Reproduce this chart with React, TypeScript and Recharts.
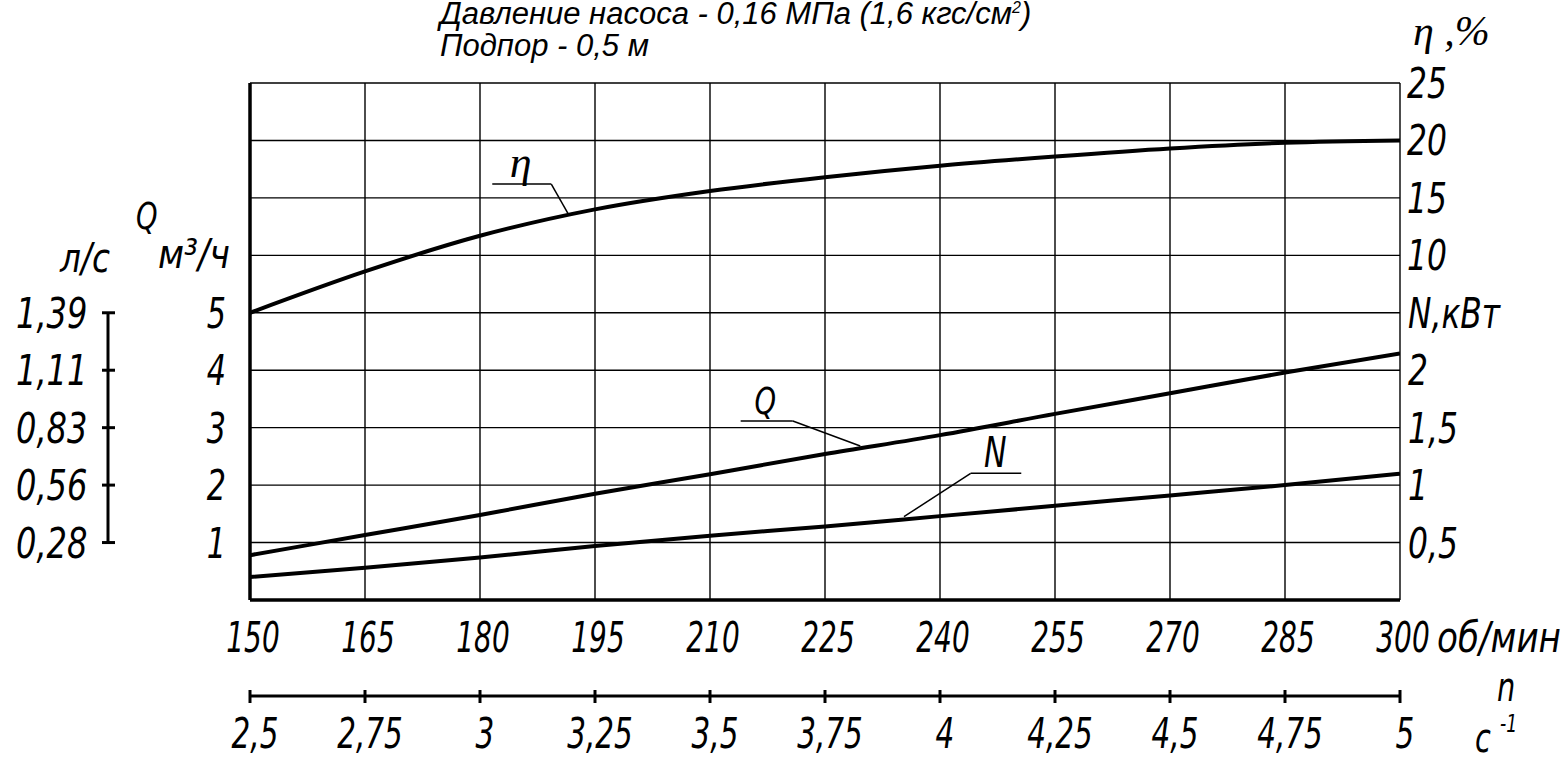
import React from 'react';
import { LineChart, Line, XAxis, YAxis, CartesianGrid, ReferenceLine, ReferenceDot } from 'recharts';

// ---------- data ----------
const rpm = [150, 165, 180, 195, 210, 225, 240, 255, 270, 285, 300]; // об/мин
const flowQ = [0.78, 1.13, 1.48, 1.85, 2.19, 2.54, 2.87, 3.24, 3.6, 3.96, 4.29]; // м3/ч
const powerN = [0.2, 0.28, 0.37, 0.47, 0.56, 0.64, 0.73, 0.82, 0.91, 1.0, 1.1]; // кВт
const efficiency = [5.0, 8.6, 11.7, 14.0, 15.6, 16.8, 17.8, 18.6, 19.3, 19.8, 20.0]; // %

const rpmTicks = [150, 165, 180, 195, 210, 225, 240, 255, 270, 285, 300];
const rpmTickLabels = ['150', '165', '180', '195', '210', '225', '240', '255', '270', '285', '300'];
const secTickLabels = ['2,5', '2,75', '3', '3,25', '3,5', '3,75', '4', '4,25', '4,5', '4,75', '5'];
const qGridTicks = [0, 1, 2, 3, 4, 5, 6, 7, 8, 9];
const qTickValues = [1, 2, 3, 4, 5];
const qTickLabels = ['1', '2', '3', '4', '5'];
const lsTicks = [0.2778, 0.5556, 0.8333, 1.1111, 1.3889];
const lsTickLabels = ['0,28', '0,56', '0,83', '1,11', '1,39'];
const etaTicks = [10, 15, 20, 25];
const etaTickLabels = ['10', '15', '20', '25'];
const nTicks = [0.5, 1, 1.5, 2, 2.5];
const nTickLabels = ['0,5', '1', '1,5', '2', 'N,кВт'];

const data = rpm.map((r, i) => ({ rpm: r, q: flowQ[i], n: powerN[i], eta: efficiency[i] }));

// annotation leaders (rpm, Q-scale units)
const etaUnder = [{ x: 181.6, y: 7.24 }, { x: 189.3, y: 7.24 }];
const etaLeader = [{ x: 189.3, y: 7.24 }, { x: 191.6, y: 6.7 }];
const qUnder = [{ x: 214.0, y: 3.116 }, { x: 220.8, y: 3.116 }];
const qLeader = [{ x: 220.8, y: 3.116 }, { x: 229.6, y: 2.68 }];
const nUnder = [{ x: 244.0, y: 2.206 }, { x: 250.6, y: 2.206 }];
const nLeader = [{ x: 244.0, y: 2.206 }, { x: 235.3, y: 1.45 }];
const etaLabelPos = { x: 185.3, y: 7.37 };
const qLabelPos = { x: 217.2, y: 3.24 };
const nLabelPos = { x: 247.2, y: 2.315 };

// ---------- layout ----------
const W = 1566;
const H = 758;
const TOP = 83;
const X1_H = 96;
const X2_H = 62;
const PLOT_H = H - TOP - X1_H - X2_H;
const ROW_H = PLOT_H / 9;

const GOST = "'DejaVu Sans Condensed','DejaVu Sans',sans-serif";
const SERIF = "'Liberation Serif','DejaVu Serif',serif";

function GText({ x, y, anchor = 'start', size = 42, sx = 0.8, len, children }: any) {
  if (len) {
    return (
      <text x={x} y={y} textAnchor={anchor} fontFamily={GOST} fontStyle="italic" fontSize={size} fill="#000"
        textLength={len} lengthAdjust="spacingAndGlyphs">{children}</text>
    );
  }
  return (
    <text transform={`translate(${x},${y}) scale(${sx},1)`} x={0} y={0} textAnchor={anchor} fontFamily={GOST}
      fontStyle="italic" fontSize={size} fill="#000">{children}</text>
  );
}

const RpmTick = ({ x, y, payload }: any) => {
  const i = rpmTicks.indexOf(payload.value);
  return <GText x={x + 3} y={y + 52} anchor="middle" sx={0.74}>{rpmTickLabels[i]}</GText>;
};

const SecTick = ({ x, y, payload }: any) => {
  const i = rpmTicks.indexOf(payload.value);
  return (
    <g>
      <line x1={x} x2={x} y1={y - 6} y2={y + 7} stroke="#000" strokeWidth={3} />
      <GText x={x + 5} y={y + 52} anchor="middle" sx={0.78}>{secTickLabels[i]}</GText>
    </g>
  );
};

const QTick = ({ x, y, payload }: any) => {
  const i = qTickValues.indexOf(payload.value);
  if (i < 0) return <g />;
  return <GText x={x - 24} y={y + 15} anchor="end" sx={0.8}>{qTickLabels[i]}</GText>;
};

const LsTick = ({ x, y, payload }: any) => {
  const i = lsTicks.indexOf(payload.value);
  return (
    <g>
      <line x1={x - 6} x2={x + 7} y1={y} y2={y} stroke="#000" strokeWidth={3} />
      {i > 0 && <line x1={x} x2={x} y1={y} y2={y + ROW_H} stroke="#000" strokeWidth={3} />}
      <GText x={x - 92} y={y + 15} anchor="start" sx={0.85}>{lsTickLabels[i]}</GText>
    </g>
  );
};

const EtaTick = ({ x, y, payload }: any) => {
  const i = etaTicks.indexOf(payload.value);
  return <GText x={x + 7} y={y + 15} sx={0.83}>{etaTickLabels[i]}</GText>;
};

const NTick = ({ x, y, payload }: any) => {
  const i = nTicks.indexOf(payload.value);
  return <GText x={x + 7} y={y + 15} sx={0.83}>{nTickLabels[i]}</GText>;
};

const lineStyle = { stroke: '#000', strokeWidth: 1.5 };

export default function App() {
  return (
    <div style={{ position: 'absolute', left: 0, top: 0, width: W, height: H, background: '#fff' }}>
      <LineChart width={W} height={H} data={data} margin={{ top: TOP, right: 0, bottom: 0, left: 0 }}>
        <CartesianGrid xAxisId="a_rpm" yAxisId="a_q" stroke="#000" strokeWidth={1.4} />
        <XAxis xAxisId="a_rpm" dataKey="rpm" type="number" domain={[150, 300]} ticks={rpmTicks} interval={0}
          allowDataOverflow height={X1_H} tickSize={0} tickMargin={0} tickLine={false}
          axisLine={{ stroke: '#000', strokeWidth: 3.5 }} tick={<RpmTick />} />
        <XAxis xAxisId="b_sec" dataKey="rpm" type="number" domain={[150, 300]} ticks={rpmTicks} interval={0}
          allowDataOverflow height={X2_H} tickSize={0} tickMargin={0} tickLine={false}
          axisLine={{ stroke: '#000', strokeWidth: 3 }} tick={<SecTick />} />
        <YAxis yAxisId="a_q" orientation="left" type="number" domain={[0, 9]} ticks={qGridTicks} interval={0}
          allowDataOverflow width={142} tickSize={0} tickMargin={0} tickLine={false}
          axisLine={{ stroke: '#000', strokeWidth: 3.5 }} tick={<QTick />} />
        <YAxis yAxisId="b_ls" orientation="left" type="number" domain={[0, 2.5]} ticks={lsTicks} interval={0}
          allowDataOverflow width={108} tickSize={0} tickMargin={0} tickLine={false} axisLine={false}
          tick={<LsTick />} />
        <YAxis yAxisId="a_eta" orientation="right" type="number" domain={[-20, 25]} ticks={etaTicks} interval={0}
          allowDataOverflow width={1} tickSize={0} tickMargin={0} tickLine={false} axisLine={false}
          tick={<EtaTick />} />
        <YAxis yAxisId="b_n" orientation="right" type="number" domain={[0, 4.5]} ticks={nTicks} interval={0}
          allowDataOverflow width={165} tickSize={0} tickMargin={0} tickLine={false} axisLine={false}
          tick={<NTick />} />

        <Line xAxisId="a_rpm" yAxisId="a_eta" dataKey="eta" type="monotone" stroke="#000" strokeWidth={4}
          dot={false} activeDot={false} isAnimationActive={false} />
        <Line xAxisId="a_rpm" yAxisId="a_q" dataKey="q" type="monotone" stroke="#000" strokeWidth={4}
          dot={false} activeDot={false} isAnimationActive={false} />
        <Line xAxisId="a_rpm" yAxisId="b_n" dataKey="n" type="monotone" stroke="#000" strokeWidth={4}
          dot={false} activeDot={false} isAnimationActive={false} />

        <ReferenceLine xAxisId="a_rpm" yAxisId="a_q" segment={etaUnder} {...lineStyle} />
        <ReferenceLine xAxisId="a_rpm" yAxisId="a_q" segment={etaLeader} {...lineStyle} />
        <ReferenceLine xAxisId="a_rpm" yAxisId="a_q" segment={qUnder} {...lineStyle} />
        <ReferenceLine xAxisId="a_rpm" yAxisId="a_q" segment={qLeader} {...lineStyle} />
        <ReferenceLine xAxisId="a_rpm" yAxisId="a_q" segment={nUnder} {...lineStyle} />
        <ReferenceLine xAxisId="a_rpm" yAxisId="a_q" segment={nLeader} {...lineStyle} />

        <ReferenceDot xAxisId="a_rpm" yAxisId="a_q" x={etaLabelPos.x} y={etaLabelPos.y} r={0}
          shape={(p: any) => (
            <text x={p.cx} y={p.cy} textAnchor="middle" fontFamily={SERIF} fontStyle="italic" fontSize={44} fill="#000">η</text>
          )} />
        <ReferenceDot xAxisId="a_rpm" yAxisId="a_q" x={qLabelPos.x} y={qLabelPos.y} r={0}
          shape={(p: any) => <GText x={p.cx} y={p.cy} anchor="middle" size={38} sx={0.8}>Q</GText>} />
        <ReferenceDot xAxisId="a_rpm" yAxisId="a_q" x={nLabelPos.x} y={nLabelPos.y} r={0}
          shape={(p: any) => <GText x={p.cx} y={p.cy} anchor="middle" size={42} sx={0.8}>N</GText>} />
      </LineChart>

      <svg width={W} height={H} style={{ position: 'absolute', left: 0, top: 0, pointerEvents: 'none' }}>
        <text x={440} y={24} fontFamily="'Liberation Sans',Arial,sans-serif" fontStyle="italic" fontSize={31} fill="#000">
          Давление насоса - 0,16 МПа (1,6 кгс/см<tspan fontSize={16} dy={-11}>2</tspan><tspan dy={11}>)</tspan>
        </text>
        <text x={440} y={56} fontFamily="'Liberation Sans',Arial,sans-serif" fontStyle="italic" fontSize={31} fill="#000">
          Подпор - 0,5 м
        </text>
        <text x={1413} y={45} fontFamily={SERIF} fontStyle="italic" fontSize={42} fill="#000">η ,%</text>
        <GText x={136} y={229} size={38} sx={0.8}>Q</GText>
        <GText x={158} y={268} size={40} len={72}>м³/ч</GText>
        <GText x={60} y={272} size={40} len={50}>л/с</GText>
        <GText x={1437} y={652} size={42} len={124}>об/мин</GText>
        <GText x={1497} y={701} size={40} sx={0.8}>n</GText>
        <GText x={1475} y={752} size={40} sx={0.8}>с</GText>
        <GText x={1500} y={732} size={24} sx={0.8}>-1</GText>
      </svg>
    </div>
  );
}
